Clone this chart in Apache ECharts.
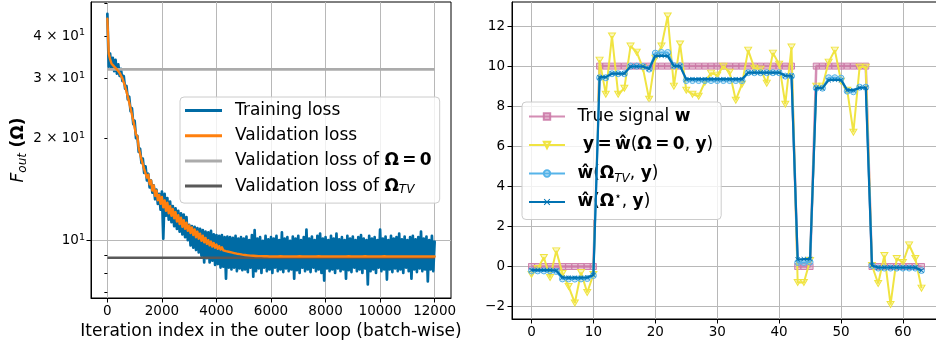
<!DOCTYPE html>
<html>
<head>
<meta charset="utf-8">
<script src="https://cdn.jsdelivr.net/npm/echarts@6/dist/echarts.min.js"></script>
<style>
  html, body { margin: 0; padding: 0; background: #ffffff; }
  #chart { width: 936px; height: 347px; }
</style>
</head>
<body>
<div id="chart"></div>
<script>
// ---------- Left panel: outer-loop loss curves (log scale) ----------
const ITER_STEP = 50;            // iterations between stored loss values
const iterTicks = [0, 2000, 4000, 6000, 8000, 10000, 12000];
const lossLabelTicks = [10, 20, 30, 40];
const lossMajorTicks = [10];
const lossMinorTicks = [7, 8, 9, 20, 30, 40, 50];

// training loss, one value every ITER_STEP iterations (0 .. 12000)
const trainLoss = [
  46.5, 32.5, 35.5, 32.0, 34.5, 31.5, 34.0, 31.0, 33.0, 30.5, 32.0, 29.5, 30.5, 28.0, 28.5, 26.0, 26.5, 24.0, 24.5, 22.0,
  22.5, 20.0, 20.3, 18.2, 18.6, 16.9, 17.4, 15.8, 16.5, 15.0, 15.7, 14.3, 15.0, 13.8, 14.5, 13.2, 14.1, 12.8, 13.7, 12.3,
  13.9, 10.1, 13.7, 11.8, 13.3, 11.5, 13.0, 11.3, 12.6, 11.0, 12.4, 10.8, 12.2, 10.6, 12.0, 10.4, 11.9, 10.2, 11.7, 10.0,
  11.1, 9.65, 11.0, 9.5, 10.95, 9.35, 10.85, 9.2, 10.8, 9.0, 10.7, 8.6, 10.6, 8.85, 10.55, 8.6, 10.65, 8.7, 10.4, 8.45,
  10.35, 8.5, 10.3, 8.3, 10.35, 8.35, 10.2, 7.7, 10.25, 8.3, 10.2, 8.2, 10.15, 8.3, 10.3, 8.1, 10.1, 8.25, 10.2, 8.15,
  10.1, 8.2, 10.25, 8.05, 10.0, 8.3, 10.35, 7.8, 10.7, 8.1,
  10.1, 8.25, 10.2, 8.0, 9.95, 8.3, 10.3, 8.1, 10.05, 8.2,
  10.2, 8.0, 10.1, 8.3, 10.3, 8.1, 10.0, 8.2, 10.55, 8.05,
  10.1, 8.25, 10.2, 8.1, 9.95, 8.2, 10.25, 7.7, 10.1, 8.15,
  10.3, 8.0, 10.0, 8.3, 10.2, 8.1, 10.75, 8.2, 10.1, 8.05,
  10.25, 8.3, 10.0, 8.1, 10.3, 8.2, 10.45, 8.0, 10.1, 7.6,
  10.2, 8.25, 10.0, 8.1, 10.3, 8.2, 10.1, 8.0, 10.45, 8.25,
  10.05, 8.1, 10.2, 8.2, 10.0, 7.7, 10.3, 8.15, 10.1, 8.05,
  10.25, 8.3, 10.0, 8.1, 10.2, 8.2, 10.35, 8.0, 10.1, 8.25,
  10.0, 7.4, 10.3, 8.1, 10.1, 8.2, 10.2, 8.0, 10.0, 8.3,
  10.75, 8.1, 10.1, 8.2, 10.25, 7.65, 10.0, 8.2, 10.3, 8.05,
  10.1, 8.25, 10.2, 8.1, 10.45, 8.2, 10.05, 8.0, 10.25, 8.3,
  10.0, 8.1, 10.2, 7.7, 10.3, 8.2, 10.05, 8.05, 10.2, 8.25,
  10.6, 8.1, 10.1, 8.2, 10.25, 7.55, 10.0, 8.2, 10.3, 8.1,
  9.9
];

// validation loss, same iteration grid
const valLoss = [
  45.0, 35.5, 34.2, 33.2, 33.2, 32.5, 32.6, 31.9, 31.9, 31.1, 31.0, 30.0, 29.8, 28.4, 28.2, 26.5, 26.2, 24.5, 24.2, 22.5,
  22.2, 20.5, 20.2, 18.7, 18.6, 17.3, 17.3, 16.2, 16.3, 15.3, 15.6, 14.6, 15.0, 14.0, 14.5, 13.5, 14.0, 13.1, 13.6, 12.8,
  13.4, 12.5, 13.1, 12.2, 12.9, 12.0, 12.6, 11.8, 12.35, 11.6, 12.1, 11.35, 11.85, 11.15, 11.65, 10.95, 11.45, 10.8, 11.25, 10.65,
  11.05, 10.5, 10.9, 10.35, 10.75, 10.2, 10.6, 10.1, 10.45, 9.95, 10.3, 9.85, 10.15, 9.75, 10.0, 9.65, 9.9, 9.57, 9.8, 9.5,
  9.7, 9.43, 9.6, 9.38, 9.52, 9.33, 9.44, 9.28, 9.37, 9.24, 9.3, 9.2, 9.24, 9.16, 9.19, 9.12, 9.14, 9.09, 9.1, 9.06,
  9.07, 9.04, 9.04, 9.02, 9.02, 9.0, 9.0, 8.99, 8.99, 8.98, 8.97, 8.97, 8.96, 8.97, 8.96, 8.96, 8.95, 8.96, 8.95, 8.95,
  8.95, 8.95, 8.96, 8.95, 8.95, 8.95, 8.95, 8.96, 8.95, 8.95,
  8.95, 8.95, 8.95, 8.95, 8.96, 8.95, 8.95, 8.95, 8.95, 8.95,
  8.95, 8.96, 8.95, 8.95, 8.95, 8.95, 8.95, 8.95, 8.96, 8.95,
  8.95, 8.95, 8.95, 8.95, 8.95, 8.96, 8.95, 8.95, 8.95, 8.95,
  8.95, 8.95, 8.96, 8.95, 8.95, 8.95, 8.95, 8.95, 8.95, 8.95,
  8.96, 8.95, 8.95, 8.95, 8.95, 8.95, 8.95, 8.96, 8.95, 8.95,
  8.95, 8.95, 8.95, 8.95, 8.95, 8.95, 8.95, 8.95, 8.95, 8.96,
  8.95, 8.95, 8.95, 8.95, 8.95, 8.95, 8.96, 8.95, 8.95, 8.95,
  8.95, 8.95, 8.95, 8.96, 8.95, 8.95, 8.95, 8.95, 8.95, 8.95,
  8.95, 8.95, 8.95, 8.95, 8.95, 8.95, 8.95, 8.95, 8.96, 8.95,
  8.95, 8.95, 8.95, 8.95, 8.95, 8.95, 8.95, 8.95, 8.95, 8.95,
  8.95, 8.95, 8.95, 8.95, 8.95, 8.95, 8.95, 8.95, 8.95, 8.95,
  8.95
];

const lastIter = 12000;
const zeroOmegaLoss = 31.9;   // validation loss with Omega = 0
const tvOmegaLoss = 8.87;     // validation loss with Omega_TV

// ---------- Right panel: recovered signals ----------
const signalIndex = Array.from({ length: 64 }, (_, i) => i);
const signalTicksX = [0, 10, 20, 30, 40, 50, 60];
const signalTicksY = [-2, 0, 2, 4, 6, 8, 10, 12];

const trueSignal = [
  0, 0, 0, 0, 0, 0, 0, 0, 0, 0, 0,
  10, 10, 10, 10, 10, 10, 10, 10, 10, 10, 10, 10, 10, 10, 10, 10,
  10, 10, 10, 10, 10, 10, 10, 10, 10, 10, 10, 10, 10, 10, 10, 10,
  0, 0, 0,
  10, 10, 10, 10, 10, 10, 10, 10, 10,
  0, 0, 0, 0, 0, 0, 0, 0, 0
];
const noisySignal = [
  -0.4, -0.1, 0.45, -0.55, 0.78, -0.35, -1.0, -1.82, -0.3, -1.3, -0.4,
  10.3, 8.6, 11.5, 8.6, 8.9, 11.0, 10.7, 9.9, 8.35, 10.4, 11.0, 12.5, 9.0, 11.1, 8.8, 8.6,
  8.5, 9.2, 9.65, 9.55, 10.0, 9.7, 8.3, 9.1, 10.8, 9.9, 9.85, 9.15, 10.65, 10.1, 8.1, 10.95,
  -0.8, -0.8, 0.3,
  9.0, 9.0, 10.2, 10.8, 9.25, 8.8, 6.7, 9.95, 9.95,
  0.05, -0.85, 0.55, -1.9, 0.4, 0.2, 1.08, 0.4, -1.08
];
const tvEstimate = [
  -0.22, -0.22, -0.22, -0.22, -0.25, -0.62, -0.62, -0.63, -0.62, -0.6, -0.45,
  9.42, 9.42, 9.62, 9.62, 9.62, 10.0, 10.0, 9.98, 9.85, 10.65, 10.68, 10.68, 10.02, 10.02, 9.28, 9.28,
  9.28, 9.28, 9.28, 9.28, 9.28, 9.28, 9.28, 9.28, 9.67, 9.67, 9.67, 9.67, 9.67, 9.67, 9.5, 9.5,
  0.2, 0.2, 0.22,
  8.9, 8.9, 9.42, 9.42, 9.4, 8.75, 8.72, 8.95, 8.95,
  0.05, -0.08, -0.08, -0.08, -0.08, -0.08, -0.08, -0.08, -0.2
];
const learnedEstimate = [
  -0.18, -0.18, -0.18, -0.18, -0.2, -0.55, -0.56, -0.56, -0.56, -0.55, -0.42,
  9.45, 9.45, 9.63, 9.63, 9.63, 9.98, 9.98, 9.98, 9.87, 10.5, 10.52, 10.5, 10.0, 10.0, 9.35, 9.35,
  9.35, 9.35, 9.35, 9.35, 9.35, 9.35, 9.35, 9.35, 9.68, 9.68, 9.68, 9.68, 9.68, 9.68, 9.52, 9.52,
  0.35, 0.37, 0.38,
  8.92, 8.9, 9.3, 9.32, 9.3, 8.8, 8.8, 8.92, 8.92,
  0.05, -0.05, -0.05, -0.05, -0.05, -0.05, -0.05, -0.05, -0.2
];

// ---------- styling ----------
const FONT = 'DejaVu Sans';
const BLACK = '#000000';
const GRID_LINE = { show: true, lineStyle: { color: '#b8b8b8', width: 1 } };
const THIN = '\u2009';

function richSet(size, lh) {
  const small = Math.round(size * 0.7);
  return {
    b:   { fontFamily: FONT, fontSize: size, lineHeight: lh, fontWeight: 'bold', color: BLACK },
    i:   { fontFamily: FONT, fontSize: size, lineHeight: lh, fontStyle: 'italic', color: BLACK },
    sub: { fontFamily: FONT, fontSize: small, lineHeight: 8, fontStyle: 'italic', verticalAlign: 'bottom', color: BLACK },
    sup: { fontFamily: FONT, fontSize: small, lineHeight: 8, verticalAlign: 'top', color: BLACK }
  };
}

const leftNames = ['Training loss', 'Validation loss', 'Validation loss of Ω = 0', 'Validation loss of Ω_TV'];
const rightNames = ['True signal w', 'y = ŵ(Ω = 0, y)', 'ŵ(Ω_TV, y)', 'ŵ(Ω*, y)'];
const legendText = {
  'Training loss': 'Training loss',
  'Validation loss': 'Validation loss',
  'Validation loss of Ω = 0': 'Validation loss of {b|Ω' + THIN + '=' + THIN + '0}',
  'Validation loss of Ω_TV': 'Validation loss of {b|Ω}{sub|TV}',
  'True signal w': 'True signal {b|w}',
  'y = ŵ(Ω = 0, y)': ' {b|y' + THIN + '=' + THIN + 'ŵ}({b|Ω' + THIN + '=' + THIN + '0}, {b|y})',
  'ŵ(Ω_TV, y)': '{b|ŵ}({b|Ω}{sub|TV}, {b|y})',
  'ŵ(Ω*, y)': '{b|ŵ}({b|Ω}{sup|⋆}, {b|y})'
};

const tickLabel = (size) => ({ fontFamily: FONT, fontSize: size, color: BLACK });
const xMark = 'path://M0,1L1,0L5,4L9,0L10,1L6,5L10,9L9,10L5,6L1,10L0,9L4,5Z';
const triDown = 'path://M0,0L10,0L5,9Z';

const asPairs = (values, step) => values.map((v, i) => [i * step, v]);

const option = {
  animation: false,
  backgroundColor: '#ffffff',
  grid: [
    { left: 91, top: 2, width: 360, height: 296, show: true, borderColor: BLACK, borderWidth: 1,
      backgroundColor: 'transparent', containLabel: false, outerBoundsMode: 'none' },
    { left: 512, top: 2, width: 429, height: 317, show: true, borderColor: BLACK, borderWidth: 1,
      backgroundColor: 'transparent', containLabel: false, outerBoundsMode: 'none' }
  ],
  xAxis: [
    {
      type: 'value', gridIndex: 0, min: -600, max: 12600,
      axisLine: { show: true, onZero: false, lineStyle: { color: BLACK, width: 1 } },
      axisTick: { show: true, length: 4.5, lineStyle: { color: BLACK }, customValues: iterTicks },
      axisLabel: Object.assign({ customValues: iterTicks, margin: 6, formatter: v => String(v) }, tickLabel(13.5)),
      splitLine: GRID_LINE,
      name: 'Iteration index in the outer loop (batch-wise)',
      nameLocation: 'middle', nameGap: 23,
      nameTextStyle: { fontFamily: FONT, fontSize: 17, color: BLACK }
    },
    {
      type: 'value', gridIndex: 1, min: -3.15, max: 66.15,
      axisLine: { show: true, onZero: false, lineStyle: { color: BLACK, width: 1 } },
      axisTick: { show: true, length: 4.5, lineStyle: { color: BLACK }, customValues: signalTicksX },
      axisLabel: Object.assign({ customValues: signalTicksX, margin: 6, formatter: v => String(v) }, tickLabel(13.5)),
      splitLine: GRID_LINE
    }
  ],
  yAxis: [
    {
      type: 'log', logBase: 10, gridIndex: 0, position: 'left', min: 6.75, max: 50.4,
      axisLine: { show: true, onZero: false, lineStyle: { color: BLACK, width: 1 } },
      axisTick: { show: true, length: 4.5, lineStyle: { color: BLACK }, customValues: lossMajorTicks },
      axisLabel: {
        customValues: lossLabelTicks, margin: 6, fontFamily: FONT, fontSize: 13.5, color: BLACK, lineHeight: 16,
        formatter: v => {
          const m = Math.round(v / 10);
          return m === 1 ? '{m|10}{e|1}' : '{m|' + m + ' × 10}{e|1}';
        },
        rich: {
          m: { fontFamily: FONT, fontSize: 13.5, lineHeight: 16, color: BLACK },
          e: { fontFamily: FONT, fontSize: 9.5, lineHeight: 5, verticalAlign: 'top', color: BLACK }
        }
      },
      splitLine: GRID_LINE,
      name: '{i|F}{sub|out} {b|(Ω)}',
      nameLocation: 'middle', nameRotate: 90, nameGap: 62,
      nameTextStyle: { fontFamily: FONT, fontSize: 17, color: BLACK, lineHeight: 20, rich: richSet(17, 20) }
    },
    {
      type: 'log', logBase: 10, gridIndex: 0, position: 'left', min: 6.75, max: 50.4,
      axisLine: { show: false },
      axisTick: { show: true, length: 3, lineStyle: { color: BLACK }, customValues: lossMinorTicks },
      axisLabel: { show: false },
      splitLine: { show: false }
    },
    {
      type: 'value', gridIndex: 1, min: -2.62, max: 13.2,
      axisLine: { show: true, onZero: false, lineStyle: { color: BLACK, width: 1 } },
      axisTick: { show: true, length: 4.5, lineStyle: { color: BLACK }, customValues: signalTicksY },
      axisLabel: Object.assign({
        customValues: signalTicksY, margin: 7,
        formatter: v => (v < 0 ? '\u2212' + Math.abs(v) : String(v))
      }, tickLabel(13.5)),
      splitLine: GRID_LINE
    }
  ],
  legend: [
    {
      data: leftNames, orient: 'vertical', left: 180, top: 97,
      icon: 'rect', itemWidth: 37, itemHeight: 3, itemGap: 5.2,
      padding: [3.5, 8, 7, 5], selectedMode: false,
      backgroundColor: 'rgba(255,255,255,0.8)', borderColor: '#cccccc', borderWidth: 1, borderRadius: 4,
      formatter: n => legendText[n],
      textStyle: { fontFamily: FONT, fontSize: 17, color: BLACK, lineHeight: 20, padding: [0, 0, 0, 8], rich: richSet(17, 20) }
    },
    {
      data: rightNames, orient: 'vertical', left: 522, top: 102,
      itemWidth: 36, itemHeight: 8, itemGap: 6.5,
      padding: [3.5, 8, 6.5, 6], selectedMode: false,
      backgroundColor: 'rgba(255,255,255,0.8)', borderColor: '#cccccc', borderWidth: 1, borderRadius: 4,
      formatter: n => legendText[n],
      textStyle: { fontFamily: FONT, fontSize: 17, color: BLACK, lineHeight: 22, padding: [0, 0, 0, 7.5], rich: richSet(17, 22) }
    }
  ],
  series: [
    {
      name: leftNames[0], type: 'line', xAxisIndex: 0, yAxisIndex: 0, z: 2,
      data: asPairs(trainLoss, ITER_STEP), symbol: 'none', silent: true,
      color: '#006BA4', lineStyle: { color: '#006BA4', width: 2.7, join: 'round', cap: 'round' }
    },
    {
      name: leftNames[2], type: 'line', xAxisIndex: 0, yAxisIndex: 0, z: 3,
      data: [[0, zeroOmegaLoss], [lastIter, zeroOmegaLoss]], symbol: 'none', silent: true,
      color: '#ABABAB', lineStyle: { color: '#ABABAB', width: 2.6 }
    },
    {
      name: leftNames[3], type: 'line', xAxisIndex: 0, yAxisIndex: 0, z: 3,
      data: [[0, tvOmegaLoss], [lastIter, tvOmegaLoss]], symbol: 'none', silent: true,
      color: '#595959', lineStyle: { color: '#595959', width: 2.6 }
    },
    {
      name: leftNames[1], type: 'line', xAxisIndex: 0, yAxisIndex: 0, z: 4,
      data: asPairs(valLoss, ITER_STEP), symbol: 'none', silent: true,
      color: '#FF800E', lineStyle: { color: '#FF800E', width: 2.4, join: 'round', cap: 'round' }
    },
    {
      name: rightNames[0], type: 'line', xAxisIndex: 1, yAxisIndex: 2, z: 2,
      data: signalIndex.map(i => [i, trueSignal[i]]), symbol: 'rect', symbolSize: 6, showAllSymbol: true, silent: true,
      color: '#CC79A7', lineStyle: { color: 'rgba(204,121,167,0.85)', width: 2.5 },
      itemStyle: { color: 'rgba(204,121,167,0.45)', borderColor: 'rgba(204,121,167,0.9)', borderWidth: 1 }
    },
    {
      name: rightNames[1], type: 'line', xAxisIndex: 1, yAxisIndex: 2, z: 3,
      data: signalIndex.map(i => [i, noisySignal[i]]), symbol: triDown, symbolSize: [7, 6], showAllSymbol: true, silent: true,
      color: '#F0E442', lineStyle: { color: '#F0E442', width: 2 },
      itemStyle: { color: 'rgba(240,228,66,0.35)', borderColor: '#F0E442', borderWidth: 1 }
    },
    {
      name: rightNames[2], type: 'line', xAxisIndex: 1, yAxisIndex: 2, z: 4,
      data: signalIndex.map(i => [i, tvEstimate[i]]), symbol: 'circle', symbolSize: 6, showAllSymbol: true, silent: true,
      color: '#56B4E9', lineStyle: { color: '#56B4E9', width: 2 },
      itemStyle: { color: 'rgba(86,180,233,0.3)', borderColor: '#56B4E9', borderWidth: 1 }
    },
    {
      name: rightNames[3], type: 'line', xAxisIndex: 1, yAxisIndex: 2, z: 5,
      data: signalIndex.map(i => [i, learnedEstimate[i]]), symbol: xMark, symbolSize: 5, showAllSymbol: true, silent: true,
      color: '#0072B2', lineStyle: { color: '#0072B2', width: 2.2 },
      itemStyle: { color: '#0072B2' }
    }
  ]
};

const chart = echarts.init(document.getElementById('chart'), null, { renderer: 'canvas' });
chart.setOption(option);
</script>
</body>
</html>
